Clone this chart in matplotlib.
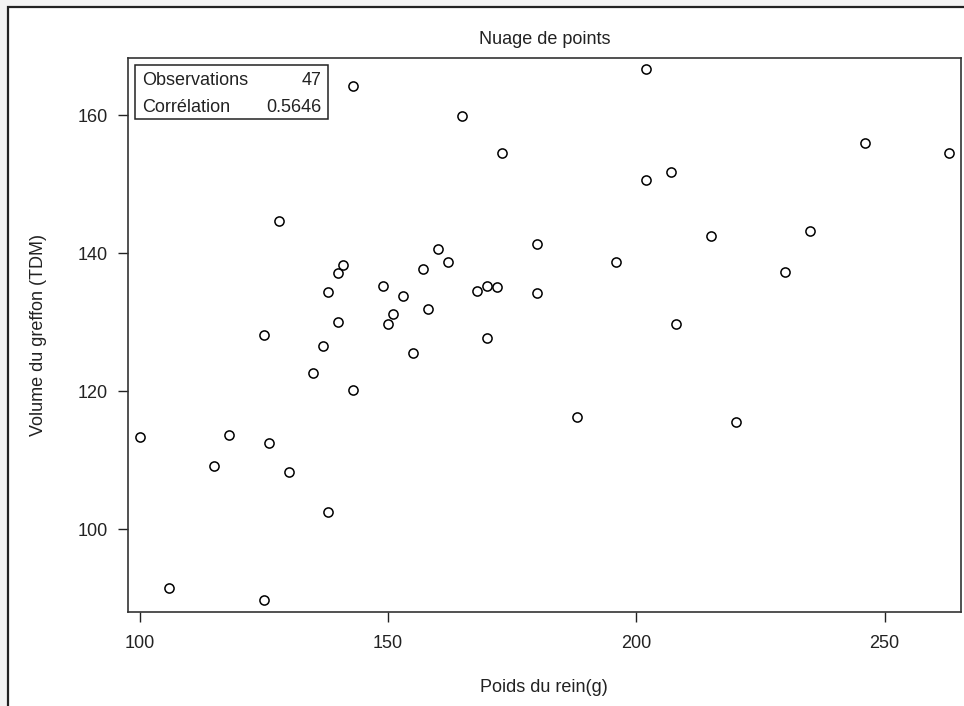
import matplotlib
matplotlib.use("Agg")
import matplotlib.pyplot as plt
from matplotlib.patches import Rectangle

plt.rcParams['font.family'] = ['Liberation Sans', 'DejaVu Sans']
plt.rcParams['font.size'] = 13

# Kidney weight (g) vs graft volume (TDM)
poids = [143, 165, 128, 160, 162, 141, 140, 157, 138, 149,
         153, 168, 151, 158, 140, 150, 125, 137, 155, 202,
         173, 246, 263, 202, 207, 215, 235, 180, 196, 230,
         170, 172, 180, 170, 208, 135, 143, 100, 118, 126,
         115, 130, 138, 106, 125, 188, 220]
volume = [164.2, 159.8, 144.7, 140.6, 138.7, 138.3, 137.1, 137.7, 134.3, 135.3,
          133.8, 134.5, 131.2, 131.9, 130.0, 129.7, 128.1, 126.6, 125.6, 166.6,
          154.5, 156.0, 154.5, 150.6, 151.7, 142.5, 143.2, 141.3, 138.7, 137.2,
          135.3, 135.1, 134.2, 127.7, 129.8, 122.7, 120.2, 113.4, 113.6, 112.5,
          109.1, 108.3, 102.5, 91.5, 89.8, 116.3, 115.5]

stat_labels = ["Observations", "Corrélation"]
stat_values = ["47", "0.5646"]

W, H = 964, 706
fig = plt.figure(figsize=(W / 100, H / 100), dpi=100)
fig.patch.set_facecolor('#f3f3f3')

# outer white panel with dark border on the visible sides
fig.patches.append(Rectangle((7.5 / W, -0.1), 2.0, 1.1 - 7.5 / H,
                             transform=fig.transFigure, facecolor='white',
                             edgecolor='#222222', linewidth=1.6, zorder=-5))

ax = fig.add_axes([127.7 / W, 1 - 611.7 / H, (961 - 127.7) / W, (611.7 - 57.7) / H])
ax.set_facecolor('white')

ax.plot(poids, volume, linestyle='none', marker='o', ms=6.6,
        mfc='none', mec='black', mew=1.1)

ax.set_xlim(97.6, 265.4)
ax.set_ylim(88.07, 168.3)
ax.set_xticks([100, 150, 200, 250])
ax.set_yticks([100, 120, 140, 160])
ax.tick_params(direction='out', length=7.5, width=1, colors='#222222',
               labelcolor='#222222', pad=7, labelsize=13)
ax.tick_params(axis='x', pad=9)
for s in ax.spines.values():
    s.set_color('#333333')
    s.set_linewidth(1.2)

ax.set_title("Nuage de points", fontsize=13, color='#222222', pad=10)
ax.set_xlabel("Poids du rein(g)", fontsize=13, color='#222222', labelpad=20)
ax.set_ylabel("Volume du greffon (TDM)", fontsize=13, color='#222222', labelpad=22)

# statistics inset box
ax.add_patch(Rectangle((0.0088, 0.8888), 0.2319, 0.098, transform=ax.transAxes,
                       facecolor='white', edgecolor='#222222', linewidth=1.1, zorder=3))
for i, (lab, val) in enumerate(zip(stat_labels, stat_values)):
    yy = 0.9585 - i * 0.049
    ax.text(0.0168, yy, lab, transform=ax.transAxes, ha='left', va='center',
            fontsize=13, color='#222222', zorder=4)
    ax.text(0.233, yy, val, transform=ax.transAxes, ha='right', va='center',
            fontsize=13, color='#222222', zorder=4)

fig.savefig("out.png", dpi=100, facecolor=fig.get_facecolor())
